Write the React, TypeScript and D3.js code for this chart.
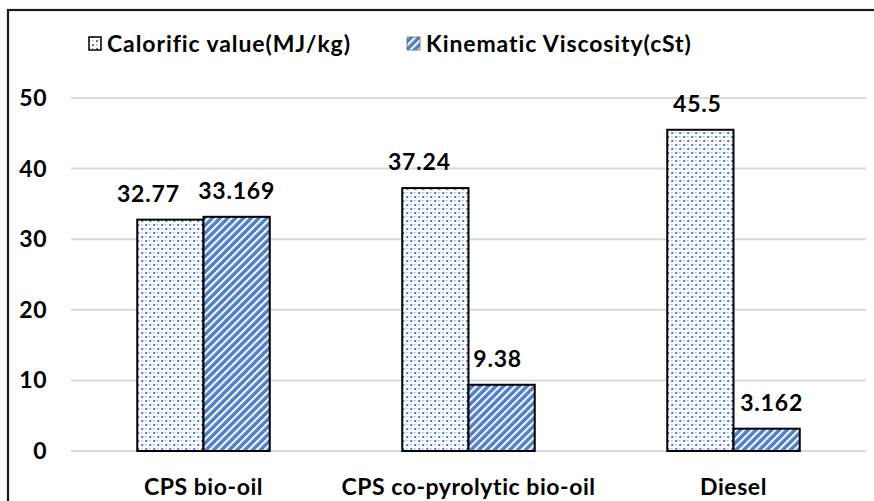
import React from "react";
import * as d3 from "d3";

const categories = ["CPS bio-oil", "CPS co-pyrolytic bio-oil", "Diesel"];
const seriesNames = ["Calorific value(MJ/kg)", "Kinematic Viscosity(cSt)"];
const calorific = [32.77, 37.24, 45.5];
const viscosity = [33.169, 9.38, 3.162];
const calorificLabels = ["32.77", "37.24", "45.5"];
const viscosityLabels = ["33.169", "9.38", "3.162"];
const yTicks = [0, 10, 20, 30, 40, 50];

const W = 874;
const H = 501;
const FONT = "Lato, Carlito, Calibri, sans-serif";
const FS = 23;
// manual label nudges (as dragged in the original chart)
const labelNudge = [
  [-22, 0],
  [-16, -4],
  [-3, 5],
];

export default function App() {
  const left = 71;
  const right = 866;
  const x0 = d3.scaleBand().domain(categories).range([left, right]).paddingInner(0.5).paddingOuter(0.25);
  const x1 = d3.scaleBand().domain(seriesNames).range([0, x0.bandwidth()]);
  const y = d3.scaleLinear().domain([0, 50]).range([451, 98]);
  const series = [
    { name: seriesNames[0], values: calorific, labels: calorificLabels, fill: "url(#dots)" },
    { name: seriesNames[1], values: viscosity, labels: viscosityLabels, fill: "url(#stripes)" },
  ];
  return (
    <svg width={W} height={H} style={{ position: "absolute", left: 0, top: 0, background: "#fff" }}>
      <defs>
        <pattern id="dots" patternUnits="userSpaceOnUse" width="8" height="8">
          <rect width="8" height="8" fill="#fff" />
          <rect x="0" y="0" width="2" height="2" fill="#4a78c8" />
          <rect x="4" y="4" width="2" height="2" fill="#4a78c8" />
          <rect x="4" y="0" width="1.2" height="1.2" fill="#7fa0d8" />
          <rect x="0" y="4" width="1.2" height="1.2" fill="#7fa0d8" />
        </pattern>
        <pattern id="stripes" patternUnits="userSpaceOnUse" width="5.5" height="5.5" patternTransform="rotate(45)">
          <rect width="5.5" height="5.5" fill="#4f7fcc" />
          <rect x="0" y="0" width="2" height="5.5" fill="#fff" />
        </pattern>
      </defs>
      <rect x={0} y={0} width={W} height={H} fill="#fff" />
      <rect x={8} y={10} width={W + 10} height={H + 10} fill="none" stroke="#1a1a1a" strokeWidth={2.2} />
      {yTicks.map((t) => (
        <g key={t}>
          <line x1={left} x2={right} y1={y(t)} y2={y(t)} stroke="#d9d9d9" strokeWidth={2} />
          <text x={47} y={y(t) + 8} textAnchor="end" fontFamily={FONT} fontWeight="bold" fontSize={FS} fill="#000" letterSpacing={0.5}>
            {t}
          </text>
        </g>
      ))}
      {categories.map((c, i) => (
        <g key={c} transform={`translate(${x0(c)},0)`}>
          {series.map((s, k) => (
            <g key={s.name}>
              <rect
                x={x1(s.name)}
                y={y(s.values[i])}
                width={x1.bandwidth()}
                height={y(0) - y(s.values[i])}
                fill={s.fill}
                stroke="#000"
                strokeWidth={2}
              />
              <text
                x={(x1(s.name) as number) + x1.bandwidth() / 2 + labelNudge[i][k]}
                y={y(s.values[i]) - 18}
                textAnchor="middle"
                fontFamily={FONT}
                fontWeight="bold"
                fontSize={FS}
                letterSpacing={0.8}
                fill="#000"
              >
                {s.labels[i]}
              </text>
            </g>
          ))}
          <text
            x={x0.bandwidth() / 2}
            y={495}
            textAnchor="middle"
            fontFamily={FONT}
            fontWeight="bold"
            fontSize={FS}
            letterSpacing={0.55}
            fill="#000"
          >
            {c}
          </text>
        </g>
      ))}
      <g>
        <rect x={89} y={37} width={12} height={13} fill="url(#dots)" stroke="#000" strokeWidth={1.5} />
        <text x={107} y={52} fontFamily={FONT} fontWeight="bold" fontSize={FS} letterSpacing={0.9} fill="#000">
          {seriesNames[0]}
        </text>
        <rect x={407} y={37} width={13} height={13} fill="url(#stripes)" stroke="#666" strokeWidth={0.8} />
        <text x={426} y={52} fontFamily={FONT} fontWeight="bold" fontSize={FS} letterSpacing={0.9} fill="#000">
          {seriesNames[1]}
        </text>
      </g>
    </svg>
  );
}
